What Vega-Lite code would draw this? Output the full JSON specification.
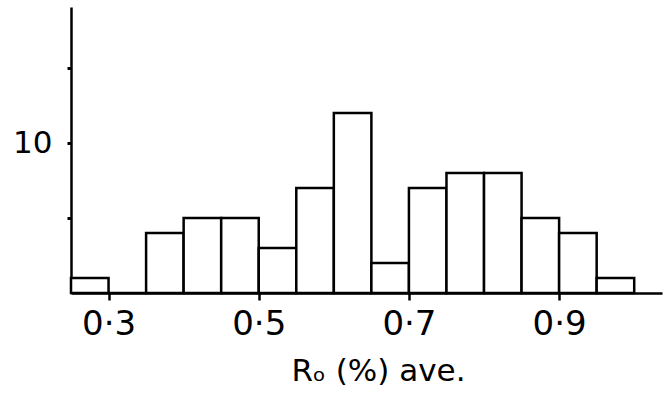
{
  "$schema": "https://vega.github.io/schema/vega-lite/v6.json",
  "width": 591,
  "height": 286,
  "autosize": {"type": "none"},
  "padding": {"left": 71, "top": 7, "right": 9, "bottom": 102},
  "background": "white",
  "config": {"view": {"stroke": null}},
  "data": {
    "values": [
      {"bin_start": 0.25, "bin_end": 0.30, "count": 1},
      {"bin_start": 0.30, "bin_end": 0.35, "count": 0},
      {"bin_start": 0.35, "bin_end": 0.40, "count": 4},
      {"bin_start": 0.40, "bin_end": 0.45, "count": 5},
      {"bin_start": 0.45, "bin_end": 0.50, "count": 5},
      {"bin_start": 0.50, "bin_end": 0.55, "count": 3},
      {"bin_start": 0.55, "bin_end": 0.60, "count": 7},
      {"bin_start": 0.60, "bin_end": 0.65, "count": 12},
      {"bin_start": 0.65, "bin_end": 0.70, "count": 2},
      {"bin_start": 0.70, "bin_end": 0.75, "count": 7},
      {"bin_start": 0.75, "bin_end": 0.80, "count": 8},
      {"bin_start": 0.80, "bin_end": 0.85, "count": 8},
      {"bin_start": 0.85, "bin_end": 0.90, "count": 5},
      {"bin_start": 0.90, "bin_end": 0.95, "count": 4},
      {"bin_start": 0.95, "bin_end": 1.00, "count": 1}
    ]
  },
  "mark": {"type": "rect", "fill": "white", "stroke": "black", "strokeWidth": 2.5},
  "encoding": {
    "x": {
      "field": "bin_start",
      "type": "quantitative",
      "scale": {"domain": [0.25, 1.037], "nice": false, "zero": false},
      "axis": {
        "values": [0.3, 0.5, 0.7, 0.9],
        "labelExpr": "replace(format(datum.value, '.1f'), '.', '·')",
        "grid": false,
        "domainColor": "black",
        "domainWidth": 2.5,
        "tickColor": "black",
        "tickWidth": 2.5,
        "tickSize": 7,
        "labelFont": "DejaVu Sans",
        "labelFontSize": 34,
        "labelColor": "black",
        "labelPadding": 7,
        "title": "Rₒ (%) ave.",
        "titleFont": "DejaVu Sans",
        "titleFontSize": 31,
        "titleFontWeight": "normal",
        "titleColor": "black",
        "titlePadding": 15,
        "titleX": 307,
        "titleAlign": "center"
      }
    },
    "x2": {"field": "bin_end"},
    "y": {
      "field": "count",
      "type": "quantitative",
      "scale": {"domain": [0, 19.07], "nice": false},
      "axis": {
        "values": [5, 10, 15],
        "labelExpr": "datum.value == 10 ? '10' : ''",
        "grid": false,
        "domainColor": "black",
        "domainWidth": 2.5,
        "tickColor": "black",
        "tickWidth": 3,
        "tickSize": 4,
        "labelFont": "DejaVu Sans",
        "labelFontSize": 31,
        "labelColor": "black",
        "labelPadding": 15,
        "title": null
      }
    },
    "y2": {"datum": 0}
  }
}
